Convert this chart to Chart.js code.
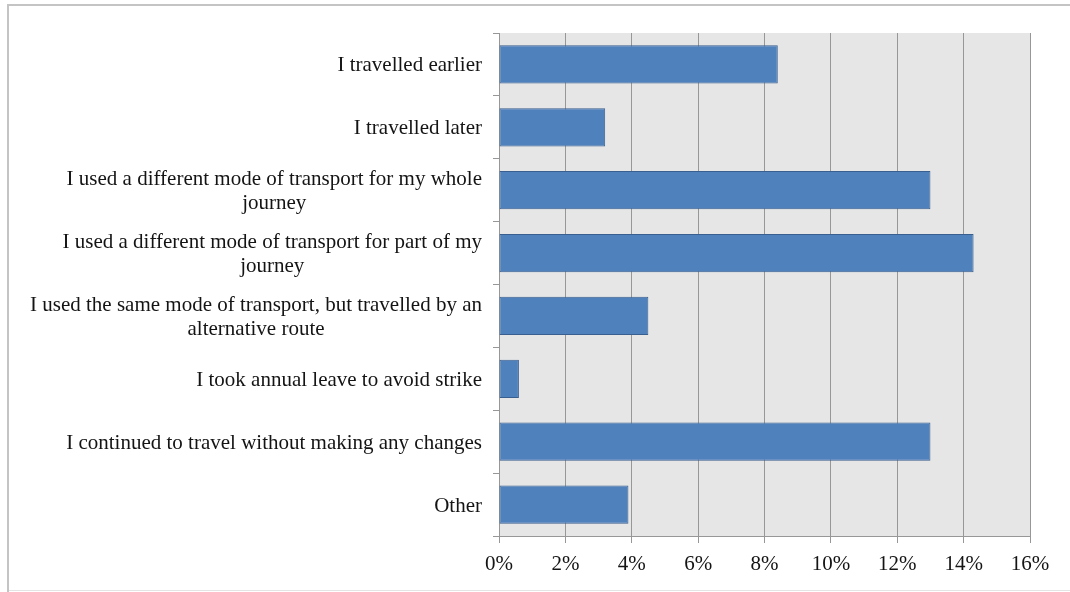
<!DOCTYPE html>
<html>
<head>
<meta charset="utf-8">
<script src="https://cdn.jsdelivr.net/npm/chart.js@4"></script>
<style>
  html, body { margin: 0; padding: 0; background: #ffffff; }
  #wrap { width: 1070px; height: 592px; position: relative; }
</style>
</head>
<body>
<div id="wrap"><canvas id="chart" width="1070" height="592"></canvas></div>
<script>
// Responses: how travel plans changed on strike days (share of respondents)
const categories = [
  ["I travelled earlier"],
  ["I travelled later"],
  ["I used a different mode of transport for my whole", "journey"],
  ["I used a different mode of transport for part of my", "journey"],
  ["I used the same mode of transport, but travelled by an", "alternative route"],
  ["I took annual leave to avoid strike"],
  ["I continued to travel without making any changes"],
  ["Other"]
];
const shares = [8.4, 3.2, 13.0, 14.3, 4.5, 0.6, 13.0, 3.9];
const axisMin = 0;
const axisMax = 16;
const axisStep = 2;

const FONT = '"Liberation Serif", "Times New Roman", serif';
const GRID = '#979797';
const TEXT = '#141414';

// Outer frame and grey plot background
const backdrop = {
  id: 'backdrop',
  beforeDraw(chart) {
    const { ctx, chartArea: a } = chart;
    ctx.save();
    ctx.fillStyle = '#e6e6e6';
    ctx.fillRect(a.left, a.top, a.right - a.left, a.bottom - a.top);
    ctx.fillStyle = '#c4c4c4';
    ctx.fillRect(7, 4, 2, 588);
    ctx.fillRect(7, 4, 1063, 2);
    ctx.fillStyle = '#e4e4e4';
    ctx.fillRect(9, 590, 1061, 1);
    ctx.restore();
  }
};

// Category labels: each label right-aligned as a block, lines centred within it
const categoryLabels = {
  id: 'categoryLabels',
  afterDraw(chart) {
    const { ctx } = chart;
    const y = chart.scales.y;
    const lineH = 24.5;
    const rightX = y.right - 17;
    ctx.save();
    ctx.font = '21px ' + FONT;
    ctx.fillStyle = TEXT;
    ctx.textAlign = 'center';
    ctx.textBaseline = 'middle';
    categories.forEach((lines, i) => {
      const cy = y.getPixelForValue(i);
      const widest = Math.max(...lines.map(l => ctx.measureText(l).width));
      const cx = rightX - widest / 2;
      lines.forEach((line, j) => {
        ctx.fillText(line, cx, cy + (j - (lines.length - 1) / 2) * lineH + 1.5);
      });
    });
    ctx.restore();
  }
};

new Chart(document.getElementById('chart'), {
  type: 'bar',
  data: {
    labels: categories,
    datasets: [{
      data: shares,
      backgroundColor: '#4f81bd',
      borderColor: '#385f8f',
      borderWidth: 1,
      borderSkipped: false,
      categoryPercentage: 1,
      barPercentage: 0.61
    }]
  },
  options: {
    indexAxis: 'y',
    responsive: false,
    animation: false,
    layout: { padding: { top: 33, right: 40, left: 0, bottom: 0 } },
    plugins: {
      legend: { display: false },
      tooltip: { enabled: false }
    },
    scales: {
      x: {
        min: axisMin,
        max: axisMax,
        ticks: {
          stepSize: axisStep,
          callback: v => v + '%',
          font: { family: FONT, size: 21 },
          color: TEXT,
          padding: 9,
          maxRotation: 0
        },
        grid: {
          color: GRID,
          tickLength: 7,
          drawOnChartArea: true
        },
        border: { display: true, color: GRID },
        afterFit(scale) { scale.height = 56; }
      },
      y: {
        ticks: { display: false },
        grid: {
          offset: true,
          drawOnChartArea: false,
          drawTicks: true,
          tickLength: 6,
          color: GRID
        },
        border: { display: true, color: GRID },
        afterFit(scale) { scale.width = 499; }
      }
    }
  },
  plugins: [backdrop, categoryLabels]
});
</script>
</body>
</html>
